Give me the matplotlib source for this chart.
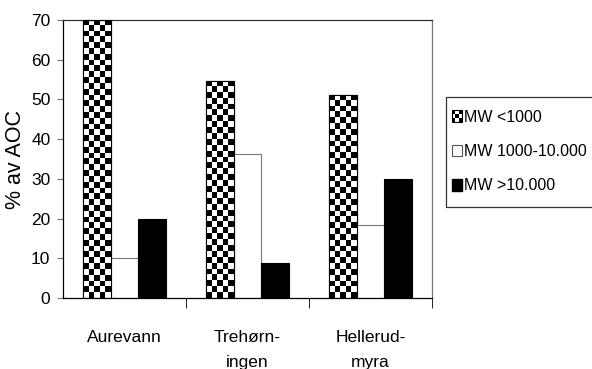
import numpy as np
import matplotlib
matplotlib.use('Agg')
from matplotlib import pyplot as plt
from matplotlib.patches import Rectangle
from matplotlib.legend_handler import HandlerBase

steder = ['Aurevann', 'Trehørn-\ningen', 'Hellerud-\nmyra']
mw_lav = [70, 54.7, 51.2]      # MW <1000
mw_mid = [10, 36.2, 18.4]      # MW 1000-10.000
mw_hoy = [20, 8.8, 30]         # MW >10.000
serier = ['MW <1000', 'MW 1000-10.000', 'MW >10.000']
yticks = [0, 10, 20, 30, 40, 50, 60, 70]

arial = ['Liberation Sans', 'DejaVu Sans']

fig = plt.figure(figsize=(5.92, 3.69), dpi=100)
ax = fig.add_axes([0.1064, 0.1924, 0.6233, 0.7534])

x = np.arange(len(steder))
w = 0.225

b1 = ax.bar(x - w, mw_lav, w, color='white', edgecolor='black', linewidth=0.8, zorder=2)
b2 = ax.bar(x, mw_mid, w, color='white', edgecolor='#777777', linewidth=0.8, zorder=2)
b3 = ax.bar(x + w, mw_hoy, w, color='black', edgecolor='black', linewidth=0.8, zorder=2)

# rutemønster inni de første søylene
px_per_unit = 0.7534 * 369 / 70.0
cell = 5.8
for rect in b1:
    h = rect.get_height()
    nrow = max(1, int(round(h * px_per_unit / cell)))
    ncol = 5
    board = (np.add.outer(np.arange(nrow), np.arange(ncol)) % 2).astype(float)
    x0 = rect.get_x()
    im = ax.imshow(board, cmap='gray', extent=[x0, x0 + rect.get_width(), 0, h],
                   aspect='auto', interpolation='nearest', zorder=2.5, origin='upper')
    im.set_clip_path(rect)
    edge = Rectangle((x0, 0), rect.get_width(), h, fill=False, edgecolor='black',
                     linewidth=0.8, zorder=3)
    ax.add_patch(edge)

ax.set_xlim(-0.5, 2.5)
ax.set_ylim(0, 70)
ax.set_yticks(yticks)
ax.set_yticklabels([str(t) for t in yticks], family=arial, fontsize=12.5)
ax.tick_params(axis='y', direction='out', length=4, color='#777777', pad=5)

ax.set_xticks(x)
ax.set_xticklabels(steder, family=arial, fontsize=12.5, linespacing=1.8)
ax.tick_params(axis='x', which='major', length=0, pad=23)
ax.set_xticks([0.5, 1.5, 2.5], minor=True)
ax.tick_params(axis='x', which='minor', direction='out', length=7, color='black')

ax.spines['left'].set_color('black')
ax.spines['bottom'].set_color('black')
ax.spines['top'].set_color('#333333')
ax.spines['right'].set_color('#777777')
for s in ax.spines.values():
    s.set_linewidth(0.9)

ax.set_ylabel('% av AOC', family=arial, fontsize=15.5)
ax.yaxis.set_label_coords(-0.1, 0.5)


class Rutefelt(HandlerBase):
    def create_artists(self, legend, orig_handle, xd, yd, width, height, fontsize, trans):
        out = [Rectangle((-xd, -yd), width, height, facecolor='white',
                         edgecolor='black', linewidth=0.8, transform=trans)]
        cw = width / 3.0
        ch = height / 3.0
        for i in range(3):
            for j in range(3):
                if (i + j) % 2 == 0:
                    out.append(Rectangle((-xd + i * cw, -yd + j * ch), cw, ch,
                                         facecolor='black', edgecolor='none',
                                         transform=trans))
        return out


h1 = Rectangle((0, 0), 1, 1)
h2 = Rectangle((0, 0), 1, 1, facecolor='white', edgecolor='#555555', linewidth=0.8)
h3 = Rectangle((0, 0), 1, 1, facecolor='black', edgecolor='black')
leg = fig.legend([h1, h2, h3], serier, handler_map={h1: Rutefelt()},
                 loc='upper left', bbox_to_anchor=(0.7534, 0.7182),
                 prop={'family': arial, 'size': 11.5}, frameon=False,
                 handlelength=0.65, handleheight=0.75, handletextpad=0.1,
                 labelspacing=1.2, borderpad=0.37, borderaxespad=0)

# legendeboksen går ut over høyre kant
boks = Rectangle((446 / 592, 1 - 207 / 369), 0.3, 110 / 369, transform=fig.transFigure,
                 fill=False, edgecolor='#333333', linewidth=0.9, clip_on=False)
fig.patches.append(boks)

fig.savefig('out.png', dpi=100)
